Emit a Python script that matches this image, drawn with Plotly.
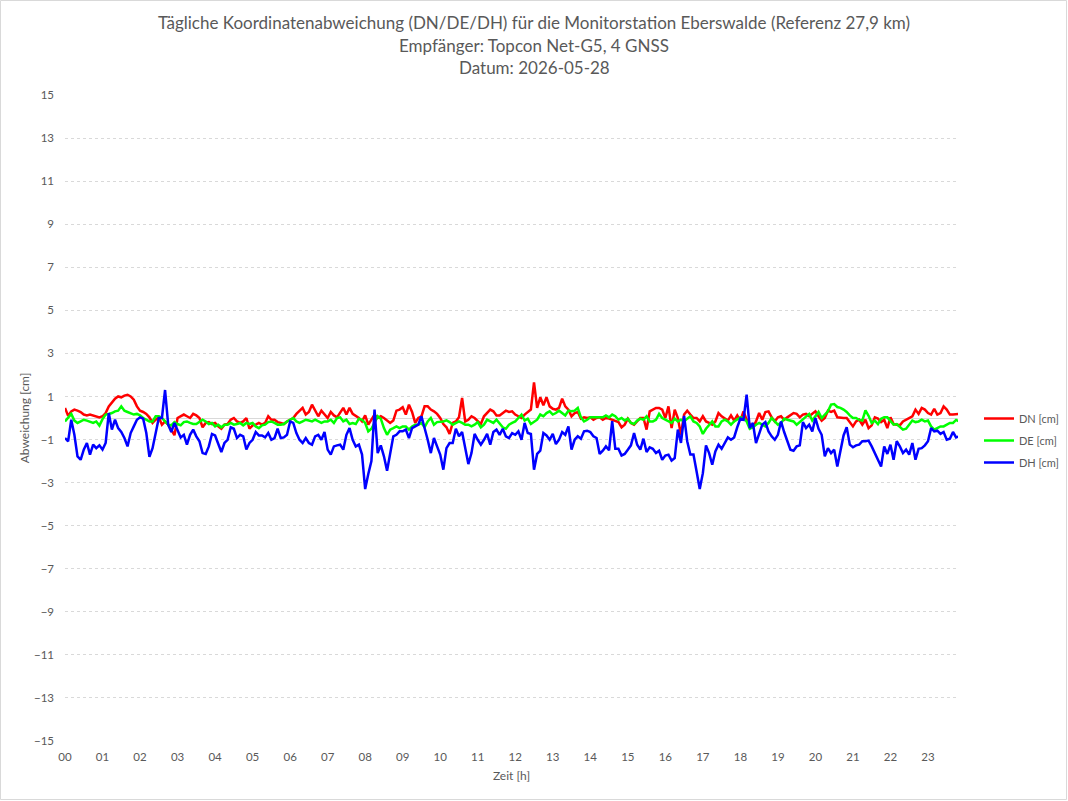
import plotly.graph_objects as go

# 5-minute samples, hour by hour (12 values per row)
DN = [
    0.47, 0.10, 0.30, 0.39, 0.34, 0.28, 0.16, 0.12, 0.16, 0.12, 0.08, 0.03,
    0.08, 0.23, 0.54, 0.70, 0.90, 1.00, 0.96, 1.04, 1.08, 1.00, 0.85, 0.54,
    0.34, 0.28, 0.19, 0.03, -0.23, -0.08, 0.03, -0.31, -0.16, -0.31, -0.54, -0.80,
    0.00, 0.08, 0.16, 0.08, 0.00, 0.19, 0.12, 0.00, -0.43, -0.23, -0.19, -0.28,
    -0.23, -0.39, -0.50, -0.31, -0.28, -0.08, 0.00, -0.16, -0.23, -0.16, 0.00, -0.50,
    -0.34, -0.31, -0.23, -0.31, -0.23, 0.08, -0.08, -0.08, -0.19, -0.23, -0.28, -0.16,
    -0.08, 0.00, 0.19, 0.31, 0.47, 0.16, 0.28, 0.62, 0.31, 0.08, 0.34, 0.16,
    0.00, 0.28, 0.12, 0.03, 0.23, 0.47, 0.16, 0.47, 0.19, 0.08, 0.00, -0.16,
    0.12, -0.31, -0.08, 0.16, 0.00, 0.08, 0.00, -0.12, -0.23, -0.12, 0.34, 0.39,
    0.50, 0.16, 0.62, 0.28, -0.23, 0.00, 0.08, 0.54, 0.54, 0.39, 0.31, 0.19,
    0.00, -0.28, -0.43, -0.74, -0.23, -0.16, 0.03, 0.93, -0.16, -0.08, 0.08, 0.00,
    -0.16, -0.28, 0.08, 0.23, 0.39, 0.31, 0.12, 0.12, 0.23, 0.34, 0.28, 0.31,
    0.16, 0.08, 0.00, 0.16, 0.28, 0.39, 1.65, 0.47, 0.96, 0.59, 0.96, 0.54,
    0.43, 0.39, 0.47, 0.90, 0.54, 0.39, 0.08, 0.23, 0.28, -0.03, 0.03, 0.00,
    0.03, -0.08, 0.00, 0.03, -0.08, 0.00, -0.03, -0.08, -0.16, -0.19, -0.43, -0.31,
    -0.03, -0.23, -0.31, -0.16, 0.00, 0.00, -0.54, 0.31, 0.39, 0.47, 0.47, 0.39,
    0.00, 0.54, -0.47, 0.39, 0.00, -0.78, 0.16, 0.34, 0.16, 0.00, 0.00, -0.16,
    0.08, -0.16, -0.23, -0.31, -0.16, 0.23, 0.08, 0.00, -0.12, 0.12, -0.12, 0.12,
    -0.12, 0.31, -0.08, -0.28, -0.43, -0.16, 0.23, -0.08, 0.28, 0.31, 0.03, -0.16,
    0.03, 0.08, -0.08, 0.03, 0.12, 0.23, 0.19, 0.03, 0.16, 0.19, 0.08, 0.19,
    0.31, 0.08, -0.12, 0.00, 0.34, 0.28, 0.34, 0.03, 0.00, 0.00, 0.00, -0.19,
    -0.39, -0.16, -0.08, -0.31, -0.08, -0.47, -0.34, 0.03, -0.03, -0.19, -0.08, -0.47,
    0.03, -0.28, -0.31, -0.34, -0.16, -0.08, 0.03, 0.08, 0.39, 0.19, 0.47, 0.39,
    0.23, 0.16, 0.43, 0.16, 0.23, 0.54, 0.39, 0.16, 0.16, 0.19, 0.19,
]

DE = [
    -0.16, 0.00, 0.19, -0.12, -0.23, -0.16, -0.08, -0.12, -0.19, -0.23, -0.16, -0.35,
    -0.05, 0.16, 0.19, 0.23, 0.31, 0.34, 0.54, 0.34, 0.28, 0.23, 0.16, 0.19,
    0.12, 0.00, -0.08, -0.16, -0.16, 0.08, 0.08, 0.00, -0.16, -0.31, -0.34, -0.19,
    -0.28, -0.34, -0.19, -0.16, -0.23, -0.28, -0.28, -0.16, -0.08, -0.16, -0.28, -0.23,
    -0.39, -0.31, -0.43, -0.31, -0.31, -0.23, -0.31, -0.28, -0.23, -0.34, -0.23, -0.28,
    -0.23, -0.39, -0.47, -0.34, -0.31, -0.19, -0.16, -0.23, -0.31, -0.31, -0.28, -0.16,
    -0.08, 0.00, -0.16, -0.23, -0.16, -0.08, -0.12, -0.16, -0.08, -0.16, -0.23, -0.16,
    -0.16, -0.08, -0.23, 0.00, 0.03, -0.16, -0.08, -0.28, -0.23, -0.28, -0.03, -0.08,
    -0.23, -0.62, -0.50, -0.23, 0.08, -0.03, -0.47, -0.78, -0.54, -0.47, -0.39, -0.47,
    -0.39, -0.39, -0.54, -0.39, -0.31, -0.31, -0.23, -0.43, -0.16, 0.00, -0.31, -0.19,
    -0.19, -0.16, -0.11, -0.19, -0.31, -0.23, -0.16, -0.23, -0.31, -0.31, -0.39, -0.31,
    -0.19, -0.43, -0.31, -0.08, -0.16, -0.23, -0.08, -0.28, -0.43, -0.50, -0.31, -0.23,
    -0.16, 0.00, 0.16, -0.12, -0.03, -0.28, -0.16, -0.08, 0.16, 0.08, 0.23, 0.31,
    0.16, 0.23, 0.34, 0.23, 0.12, 0.34, 0.31, 0.34, 0.47, 0.03, -0.16, -0.08,
    0.03, 0.03, 0.03, 0.06, 0.03, 0.12, 0.03, 0.16, 0.08, -0.08, 0.00, -0.12,
    -0.03, -0.23, -0.28, -0.12, -0.03, -0.08, 0.08, -0.16, -0.16, -0.08, 0.19, 0.00,
    -0.08, -0.16, -0.23, -0.03, -0.16, -0.08, -0.16, -0.03, 0.08, -0.16, -0.23, -0.39,
    -0.74, -0.50, -0.31, -0.16, -0.39, -0.39, -0.16, -0.08, -0.16, -0.31, -0.16, -0.08,
    0.03, 0.00, -0.16, -0.50, -0.43, -0.31, -0.23, -0.31, -0.39, -0.23, 0.00, -0.16,
    -0.31, -0.23, -0.03, -0.08, -0.12, -0.16, -0.31, -0.19, -0.08, 0.08, 0.19, -0.12,
    0.08, 0.28, 0.00, 0.16, 0.31, 0.62, 0.65, 0.51, 0.47, 0.39, 0.28, 0.12,
    0.00, 0.00, -0.09, -0.12, 0.35, 0.10, -0.23, -0.12, -0.28, -0.03, 0.03, 0.03,
    -0.12, -0.31, -0.28, -0.43, -0.54, -0.50, -0.28, -0.12, -0.19, -0.16, -0.08, -0.16,
    -0.12, -0.39, -0.54, -0.47, -0.39, -0.39, -0.31, -0.23, -0.23, -0.09, -0.16,
]

DH = [
    -0.93, -1.08, -0.08, -0.78, -1.78, -1.94, -1.47, -1.16, -1.70, -1.24, -1.40, -1.27,
    -1.47, -1.16, 0.23, -0.54, -0.08, -0.47, -0.65, -0.93, -1.32, -0.70, -0.39, -0.08,
    0.03, -0.03, -0.70, -1.80, -1.40, -0.70, 0.00, 0.00, 1.30, -0.31, -0.65, -0.23,
    -0.54, -0.90, -0.78, -1.24, -0.78, -0.54, -0.85, -1.08, -1.63, -1.67, -1.32, -0.74,
    -0.81, -1.24, -1.58, -1.16, -1.01, -0.43, -0.50, -0.93, -0.78, -0.85, -1.46, -1.16,
    -1.01, -0.65, -0.81, -0.81, -0.90, -0.70, -1.01, -0.93, -0.50, -0.93, -0.90, -0.78,
    -0.16, -0.23, -0.70, -1.01, -1.16, -0.93, -1.16, -1.24, -0.85, -0.78, -1.01, -0.65,
    -1.47, -1.70, -1.32, -1.27, -1.24, -1.47, -0.78, -0.47, -1.01, -1.32, -1.24, -1.70,
    -3.30, -2.60, -2.00, 0.39, -1.63, -1.27, -1.78, -2.45, -1.70, -0.85, -0.78, -0.62,
    -0.62, -0.54, -0.93, -0.47, -0.39, -0.31, 0.08, -0.43, -1.01, -1.63, -0.93, -1.32,
    -1.70, -2.40, -1.40, -1.16, -1.16, -0.50, -0.85, -0.65, -1.47, -2.14, -1.63, -0.74,
    -1.01, -1.24, -1.01, -0.74, -1.24, -0.65, -0.54, -0.78, -0.50, -0.85, -0.93, -0.70,
    -0.78, -0.62, -1.01, -0.23, -0.70, -0.74, -2.40, -1.67, -1.52, -0.70, -0.81, -1.01,
    -0.74, -1.21, -1.01, -0.65, -0.78, -0.39, -1.47, -1.01, -0.85, -0.96, -0.62, -0.59,
    -0.65, -0.85, -0.93, -1.67, -1.52, -1.32, -1.50, -0.15, -1.43, -1.43, -1.74, -1.67,
    -1.47, -1.27, -0.70, -1.24, -1.47, -0.96, -1.58, -1.36, -1.43, -1.63, -1.52, -1.94,
    -1.74, -1.70, -1.98, -1.86, -0.54, -1.16, 0.10, -1.08, -1.70, -1.70, -2.48, -3.30,
    -2.56, -1.27, -1.63, -2.17, -1.55, -1.24, -1.43, -1.16, -0.90, -1.01, -0.90, -0.43,
    -0.03, -0.08, 1.09, -0.47, -0.23, -1.16, -0.70, -0.31, -0.19, -0.62, -0.85, -1.01,
    -0.78, -0.16, -0.65, -1.08, -1.47, -1.52, -1.32, -1.27, -0.19, -0.47, -0.31, -0.62,
    0.00, -0.50, -0.78, -1.78, -1.40, -1.63, -1.47, -2.25, -1.47, -0.81, -0.43, -1.24,
    -1.36, -1.27, -1.24, -1.08, -1.08, -1.05, -1.32, -1.63, -1.94, -2.25, -1.32, -1.67,
    -1.24, -1.94, -1.08, -1.32, -1.63, -1.47, -1.70, -1.16, -1.94, -1.43, -1.40, -1.27,
    -1.08, -0.47, -0.62, -0.59, -0.74, -0.65, -1.01, -0.96, -0.65, -0.90, -0.85,
]

SERIES_NAMES = ["DN [cm]", "DE [cm]", "DH [cm]"]
SERIES_COLORS = ["#FF0000", "#00FF00", "#0000FF"]
HOUR_TICKS = list(range(24))
HOUR_LABELS = [f"{h:02d}" for h in HOUR_TICKS]
Y_TICKS = list(range(-15, 16, 2))

TITLE_LINES = [
    "Tägliche Koordinatenabweichung (DN/DE/DH) für die Monitorstation Eberswalde (Referenz 27,9 km)",
    "Empfänger: Topcon Net-G5, 4 GNSS",
    "Datum: 2026-05-28",
]

# time of each sample in hours (5-minute interval)
TIME_H = [i / 12 for i in range(len(DN))]

W, H = 1068, 801
ML, MR, MT, MB = 65, 110, 95, 60
PW, PH = W - ML - MR, H - MT - MB

FONT = "Lato, 'Open Sans', sans-serif"
GREY = "#595959"


def px_x(px):
    return (px - ML) / PW


def px_y(py):
    return (H - MB - py) / PH


fig = go.Figure()
for i, (name, ys, col) in enumerate(zip(SERIES_NAMES, [DN, DE, DH], SERIES_COLORS)):
    fig.add_trace(go.Scatter(
        x=TIME_H, y=ys, name=name, mode="lines",
        line=dict(color=col, width=2.5),
        legendgroup=f"g{i}",
    ))

fig.update_layout(
    width=W, height=H,
    margin=dict(l=ML, r=MR, t=MT, b=MB, autoexpand=False),
    paper_bgcolor="white", plot_bgcolor="white",
    font=dict(family=FONT, color=GREY, size=11),
    showlegend=True,
    legend=dict(x=px_x(979), y=px_y(404), xanchor="left", yanchor="top",
                font=dict(size=11, color=GREY), tracegroupgap=3,
                bgcolor="rgba(0,0,0,0)"),
    xaxis=dict(range=[0, 23.8], tickmode="array", tickvals=HOUR_TICKS, ticktext=HOUR_LABELS,
               showgrid=False, zeroline=False, showline=False, ticks="",
               ticklabelstandoff=7,
               tickfont=dict(size=11.5, color=GREY),
               title=dict(text="Zeit [h]", font=dict(size=12, color=GREY), standoff=10)),
    yaxis=dict(range=[-15, 15], tickmode="array", tickvals=Y_TICKS,
               showgrid=True, gridcolor="#d9d9d9", griddash="dot", gridwidth=1,
               zeroline=True, zerolinecolor="#d9d9d9", zerolinewidth=1,
               showline=False, ticks="", ticklabelstandoff=10,
               tickfont=dict(size=11.5, color=GREY),
               title=dict(text="Abweichung [cm]", font=dict(size=12, color=GREY), standoff=1)),
)

# title lines
for text, yc in zip(TITLE_LINES, [22, 45, 68]):
    fig.add_annotation(text=text, xref="paper", yref="paper",
                       x=px_x(W / 2), y=px_y(yc), xanchor="center", yanchor="middle",
                       showarrow=False, font=dict(family=FONT, size=17, color=GREY))

# outer chart border
fig.add_shape(type="rect", xref="paper", yref="paper",
              x0=px_x(0.5), x1=px_x(W - 1.5),
              y0=px_y(H - 1.5), y1=px_y(0.5),
              line=dict(color="#d9d9d9", width=1), fillcolor="rgba(0,0,0,0)", layer="below")

fig.write_html("out.html")
